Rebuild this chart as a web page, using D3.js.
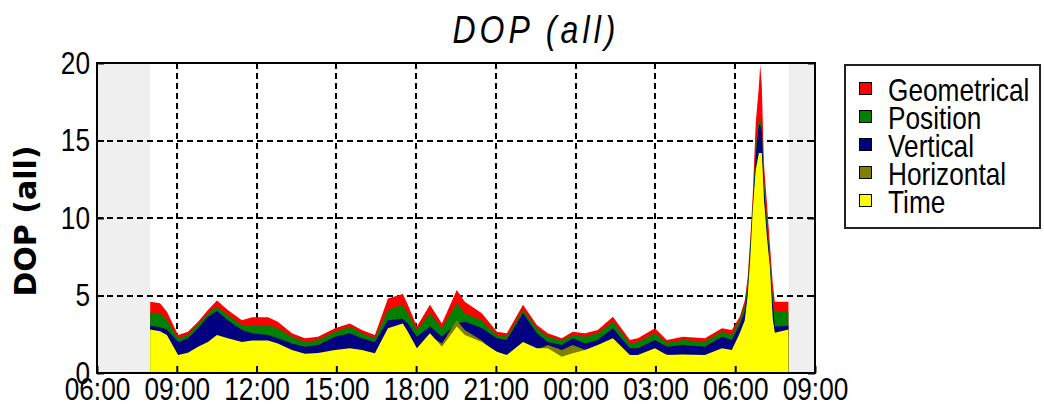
<!DOCTYPE html>
<html>
<head>
<meta charset="utf-8">
<script src="https://cdn.jsdelivr.net/npm/d3@7"></script>
<style>
  html, body { margin: 0; padding: 0; background: #fff; }
  svg { display: block; }
  text { font-family: "Liberation Sans", Arial, sans-serif; fill: #000; }
</style>
</head>
<body>
<svg id="chart" width="1044" height="405"></svg>
<script>
// Sample times, in hours counted from 00:00 of the first day
const sampleHours = [
  8.00, 8.37, 8.63, 9.05, 9.42, 9.80, 10.17, 10.51, 10.92, 11.45,
  11.83, 12.43, 12.80, 13.33, 13.82, 14.31, 14.95, 15.51, 15.96, 16.45,
  16.94, 17.50, 17.69, 18.03, 18.52, 18.97, 19.53, 19.83, 20.47, 21.04,
  21.41, 22.02, 22.54, 22.95, 23.48, 23.89, 24.35, 24.83, 25.40, 26.04,
  26.34, 26.98, 27.43, 28.03, 28.86, 29.50, 29.87, 30.17, 30.36, 30.47,
  30.57, 30.66, 30.77, 30.89, 30.94, 31.00, 31.08, 31.19, 31.30, 31.41,
  31.49, 32.00
];

const geometrical = [
  4.6, 4.5, 3.95, 2.45, 2.66, 3.3, 4.06, 4.67, 4.06, 3.4,
  3.6, 3.6, 3.3, 2.56, 2.25, 2.34, 2.88, 3.2, 2.77, 2.45,
  4.8, 5.1, 4.4, 3.0, 4.4, 3.2, 5.35, 4.6, 3.85, 2.66,
  2.56, 4.4, 3.1, 2.56, 2.24, 2.66, 2.56, 2.77, 3.63, 2.13,
  2.24, 2.88, 2.13, 2.34, 2.24, 2.88, 2.77, 3.63, 4.7, 6.2,
  8.8, 11.5, 16.1, 18.5, 19.9, 18.5, 13.5, 11.0, 8.4, 5.8,
  4.6, 4.6
];

const position = [
  3.9, 3.85, 3.4, 2.25, 2.45, 3.15, 3.85, 4.28, 3.74, 3.1,
  3.1, 3.1, 2.88, 2.34, 2.0, 2.13, 2.66, 3.0, 2.56, 2.24,
  4.06, 4.4, 3.85, 2.77, 3.85, 2.88, 4.5, 3.85, 3.4, 2.45,
  2.34, 4.06, 2.88, 2.34, 2.1, 2.45, 2.34, 2.56, 3.3, 1.9,
  2.0, 2.56, 1.95, 2.13, 2.03, 2.66, 2.45, 3.4, 4.4, 5.8,
  8.4, 11.0, 14.5, 16.3, 16.3, 16.0, 12.5, 10.0, 7.5, 5.0,
  3.95, 3.95
];

const vertical = [
  3.05, 2.95, 2.8, 2.0, 2.24, 2.88, 3.63, 4.0, 3.4, 2.77,
  2.56, 2.45, 2.24, 1.9, 1.7, 1.8, 2.34, 2.56, 2.25, 2.0,
  3.4, 3.5, 3.2, 2.34, 3.0, 2.34, 3.2, 3.3, 2.9, 2.25,
  2.13, 3.85, 2.56, 2.0, 1.8, 2.24, 1.9, 2.13, 2.88, 1.6,
  1.6, 2.13, 1.7, 1.8, 1.7, 2.34, 2.13, 3.1, 4.0, 5.4,
  8.0, 10.6, 14.0, 16.0, 16.0, 15.6, 12.0, 9.5, 7.2, 4.6,
  3.0, 3.05
];

const horizontal = [
  2.6, 2.5, 2.2, 1.0, 1.15, 1.5, 1.8, 2.2, 2.0, 1.8,
  1.9, 1.9, 1.7, 1.3, 1.1, 1.1, 1.3, 1.4, 1.3, 1.1,
  2.7, 3.0, 2.5, 1.4, 2.4, 1.9, 3.4, 2.77, 2.1, 1.2,
  1.0, 1.8, 1.5, 1.8, 1.48, 1.8, 1.5, 1.6, 2.0, 1.0,
  1.0, 1.4, 1.2, 1.05, 1.0, 1.4, 1.3, 2.3, 3.2, 4.8,
  7.3, 10.2, 12.8, 14.0, 14.0, 14.0, 11.0, 8.6, 6.7, 3.3,
  2.4, 2.6
];

const timeDop = [
  2.8, 2.7, 2.45, 1.16, 1.3, 1.7, 2.0, 2.45, 2.25, 2.0,
  2.1, 2.1, 1.9, 1.48, 1.25, 1.29, 1.48, 1.6, 1.48, 1.27,
  2.88, 3.2, 2.66, 1.6, 2.56, 1.7, 3.0, 2.45, 2.0, 1.37,
  1.16, 2.0, 1.6, 1.6, 1.05, 1.27, 1.48, 1.8, 2.24, 1.16,
  1.16, 1.6, 1.16, 1.2, 1.16, 1.6, 1.48, 2.56, 3.4, 5.0,
  7.5, 10.5, 13.1, 14.2, 14.2, 14.2, 11.2, 8.8, 6.9, 3.5,
  2.6, 2.8
];

// Legend / drawing order: back to front
const seriesNames = ["Geometrical", "Position", "Vertical", "Horizontal", "Time"];
const seriesValues = [geometrical, position, vertical, horizontal, timeDop];
const seriesColors = ["#ff0000", "#008000", "#000080", "#808000", "#ffff00"];

const yTicks = [0, 5, 10, 15, 20];
const axisStartHour = 6;
const axisEndHour = 33;
const tickStepHours = 3;

const chartTitle = "DOP (all)";
const yAxisTitle = "DOP (all)";

// ---- layout ----
const svg = d3.select("#chart");
const plot = { left: 97, top: 63, right: 815, bottom: 373 };
const squeeze = 0.82;

const day0 = new Date(2000, 0, 1, 0, 0, 0);
const atHour = h => new Date(day0.getTime() + h * 3600 * 1000);

const x = d3.scaleTime()
  .domain([atHour(axisStartHour), atHour(axisEndHour)])
  .range([plot.left, plot.right]);
const y = d3.scaleLinear()
  .domain([0, 20])
  .range([plot.bottom, plot.top]);

const xTickValues = d3.range(axisStartHour, axisEndHour + 0.001, tickStepHours).map(atHour);

// plot background: grey outside the recorded span, white inside
svg.append("rect")
  .attr("x", plot.left).attr("y", plot.top)
  .attr("width", plot.right - plot.left).attr("height", plot.bottom - plot.top)
  .attr("fill", "#efefef");
const t0 = atHour(sampleHours[0]);
const t1 = atHour(sampleHours[sampleHours.length - 1]);
svg.append("rect")
  .attr("x", x(t0)).attr("y", plot.top)
  .attr("width", x(t1) - x(t0)).attr("height", plot.bottom - plot.top)
  .attr("fill", "#ffffff");

// dashed grid
const grid = svg.append("g")
  .attr("stroke", "#000").attr("stroke-width", 2).attr("stroke-dasharray", "6,4");
grid.selectAll("line.v")
  .data(xTickValues.slice(1, -1))
  .join("line")
  .attr("x1", d => Math.round(x(d))).attr("x2", d => Math.round(x(d)))
  .attr("y1", plot.top).attr("y2", plot.bottom);
grid.selectAll("line.h")
  .data(yTicks.slice(1, -1))
  .join("line")
  .attr("x1", plot.left).attr("x2", plot.right)
  .attr("y1", d => Math.round(y(d))).attr("y2", d => Math.round(y(d)));

// overlapping areas from the zero line
const area = d3.area()
  .x(d => x(atHour(d.h)))
  .y0(y(0))
  .y1(d => y(d.v))
  .curve(d3.curveLinear);

seriesValues.forEach((vals, i) => {
  const pts = sampleHours.map((h, k) => ({ h, v: vals[k] }));
  svg.append("path")
    .datum(pts)
    .attr("d", area)
    .attr("fill", seriesColors[i]);
});

// axes with inward ticks
const xAxis = d3.axisBottom(x)
  .tickValues(xTickValues)
  .tickFormat(d3.timeFormat("%H:%M"))
  .tickSizeInner(-7).tickSizeOuter(0).tickPadding(4);
const gx = svg.append("g")
  .attr("transform", `translate(0,${plot.bottom})`)
  .call(xAxis);
gx.select(".domain").remove();
gx.selectAll("line").attr("stroke", "#000").attr("stroke-width", 2);
gx.selectAll("text")
  .attr("font-size", 32)
  .attr("font-family", "'Liberation Sans', Arial, sans-serif")
  .attr("transform", `scale(${squeeze},1)`);

const yAxis = d3.axisLeft(y)
  .tickValues(yTicks)
  .tickSizeInner(-7).tickSizeOuter(0).tickPadding(7);
const gy = svg.append("g")
  .attr("transform", `translate(${plot.left},0)`)
  .call(yAxis);
gy.select(".domain").remove();
gy.selectAll("line").attr("stroke", "#000").attr("stroke-width", 2);
gy.selectAll("text")
  .attr("font-size", 32)
  .attr("font-family", "'Liberation Sans', Arial, sans-serif")
  .attr("x", -7 / squeeze)
  .attr("transform", `scale(${squeeze},1)`);

const gyR = svg.append("g")
  .attr("transform", `translate(${plot.right},0)`)
  .call(d3.axisRight(y).tickValues(yTicks).tickSizeInner(-7).tickSizeOuter(0).tickFormat(""));
gyR.select(".domain").remove();
gyR.selectAll("line").attr("stroke", "#000").attr("stroke-width", 2);

// plot frame
svg.append("rect")
  .attr("x", plot.left).attr("y", plot.top)
  .attr("width", plot.right - plot.left).attr("height", plot.bottom - plot.top)
  .attr("fill", "none").attr("stroke", "#000").attr("stroke-width", 2);

// title
svg.append("text")
  .attr("transform", `translate(536,43) scale(${squeeze},1)`)
  .attr("text-anchor", "middle")
  .attr("font-size", 39)
  .attr("font-style", "italic")
  .attr("letter-spacing", 5)
  .text(chartTitle);

// y axis title
svg.append("text")
  .attr("transform", "translate(36,221) rotate(-90)")
  .attr("text-anchor", "middle")
  .attr("font-size", 30)
  .attr("font-weight", "bold")
  .style("font-family", "'DejaVu Sans', Verdana, sans-serif")
  .text(yAxisTitle);

// legend
const legend = svg.append("g");
legend.append("rect")
  .attr("x", 845).attr("y", 65).attr("width", 195).attr("height", 163)
  .attr("fill", "#fff").attr("stroke", "#222").attr("stroke-width", 2);
const rows = legend.selectAll("g.row")
  .data(seriesNames)
  .join("g")
  .attr("transform", (d, i) => `translate(0,${89 + i * 28})`);
rows.append("rect")
  .attr("x", 859.5).attr("y", -6.5).attr("width", 12).attr("height", 12)
  .attr("fill", (d, i) => seriesColors[i])
  .attr("stroke", "#000").attr("stroke-width", 1);
rows.append("text")
  .attr("transform", `translate(888,12) scale(${squeeze},1)`)
  .attr("font-size", 32)
  .text(d => d);
</script>
</body>
</html>
